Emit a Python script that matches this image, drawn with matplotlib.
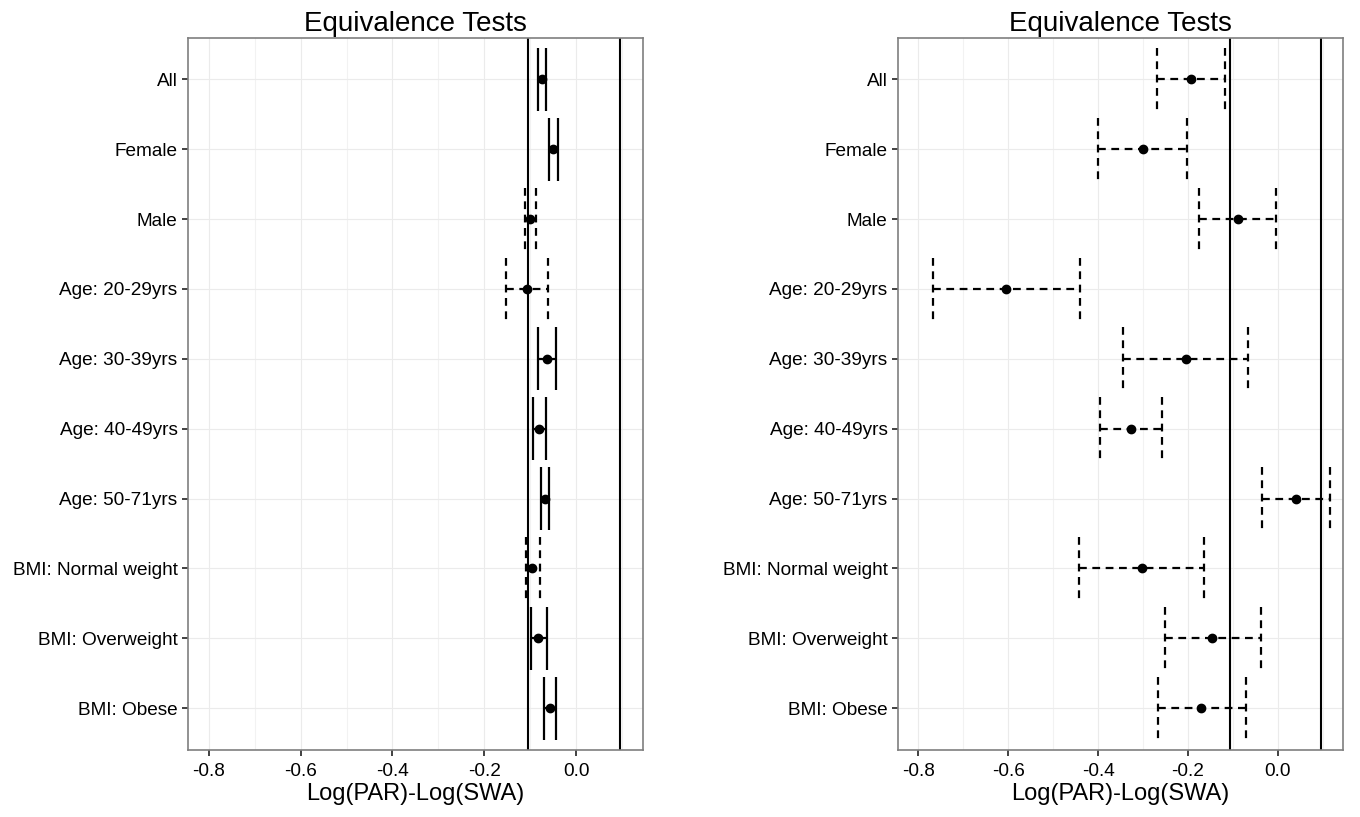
#!/usr/bin/env python3
"""
Equivalence test plot: Log(PAR)-Log(SWA) by subgroup, two panels
"""

import numpy as np
import matplotlib
matplotlib.use('Agg')
import matplotlib.pyplot as plt
from matplotlib.ticker import MultipleLocator

plt.rcParams['font.family'] = ['Liberation Sans', 'DejaVu Sans']

# subgroups, top to bottom
categories = ["All", "Female", "Male", "Age: 20-29yrs", "Age: 30-39yrs",
              "Age: 40-49yrs", "Age: 50-71yrs", "BMI: Normal weight",
              "BMI: Overweight", "BMI: Obese"]

# left panel: estimate and 90% CI
left_est = [-0.075, -0.051, -0.101, -0.108, -0.064, -0.081, -0.068, -0.096, -0.083, -0.058]
left_lo = [-0.083, -0.059, -0.112, -0.152, -0.083, -0.095, -0.077, -0.110, -0.099, -0.070]
left_hi = [-0.067, -0.041, -0.087, -0.062, -0.044, -0.066, -0.060, -0.079, -0.064, -0.044]

# right panel
right_est = [-0.193, -0.301, -0.089, -0.604, -0.205, -0.326, 0.041, -0.303, -0.146, -0.170]
right_lo = [-0.268, -0.401, -0.176, -0.767, -0.345, -0.395, -0.035, -0.442, -0.252, -0.266]
right_hi = [-0.118, -0.201, -0.003, -0.439, -0.066, -0.257, 0.117, -0.164, -0.037, -0.071]

# equivalence margins
EQ_LOWER = np.log(0.9)
EQ_UPPER = np.log(1.1)

X_LIMITS = (-0.8, 0.1)
X_TICKS = [-0.8, -0.6, -0.4, -0.2, 0.0]

LW = 1.6
DASH = (0, (3.5, 2.5))


def draw_panel(ax, est, lo, hi):
    """一个面板: 误差线 + 点 + 等效界限"""
    ypos = np.arange(len(categories))
    half = 0.45  # errorbar width 0.9, flipped

    for y, e, a, b in zip(ypos, est, lo, hi):
        inside = (a >= EQ_LOWER) and (b <= EQ_UPPER)
        ls = '-' if inside else DASH
        kw = dict(color='black', lw=LW, linestyle=ls, solid_capstyle='butt',
                  dash_capstyle='butt', zorder=3)
        ax.plot([a, a], [y - half, y + half], **kw)
        ax.plot([b, b], [y - half, y + half], **kw)
        ax.plot([a, b], [y, y], **kw)

    ax.plot(est, ypos, 'o', color='black', markersize=6, zorder=4)

    ax.axvline(EQ_LOWER, color='black', lw=1.5, zorder=2)
    ax.axvline(EQ_UPPER, color='black', lw=1.5, zorder=2)

    # ggplot 风格的坐标范围 (5% 扩展)
    span = X_LIMITS[1] - X_LIMITS[0]
    ax.set_xlim(X_LIMITS[0] - 0.05 * span, X_LIMITS[1] + 0.05 * span)
    ax.set_ylim(len(categories) - 1 + 0.6, -0.6)

    ax.set_xticks(X_TICKS)
    ax.set_xticklabels([f"{t:.1f}" for t in X_TICKS])
    ax.xaxis.set_minor_locator(MultipleLocator(0.1))
    ax.set_yticks(ypos)
    ax.set_yticklabels(categories)

    ax.grid(True, which='major', color='#ebebeb', lw=0.8, zorder=0)
    ax.grid(True, which='minor', axis='x', color='#f2f2f2', lw=0.8, zorder=0)
    ax.set_axisbelow(True)
    ax.tick_params(axis='both', which='major', labelsize=13.7, length=4.5,
                   width=1.3, color='#333333', labelcolor='black', pad=3)
    ax.tick_params(axis='x', which='major', pad=5)
    ax.tick_params(axis='x', which='minor', length=0)

    for sp in ax.spines.values():
        sp.set_color('#7f7f7f')
        sp.set_linewidth(1.2)

    ax.set_title("Equivalence Tests", fontsize=20, pad=5)
    ax.set_xlabel("Log(PAR)-Log(SWA)", fontsize=17, labelpad=2)


def main():
    fig = plt.figure(figsize=(13.6, 8.17), dpi=100)
    ax1 = fig.add_axes([0.1382, 0.0820, 0.3346, 0.8721])
    ax2 = fig.add_axes([0.6603, 0.0820, 0.3272, 0.8721])

    draw_panel(ax1, left_est, left_lo, left_hi)
    draw_panel(ax2, right_est, right_lo, right_hi)

    fig.savefig("out.png", dpi=100)
    plt.close(fig)


if __name__ == "__main__":
    main()
